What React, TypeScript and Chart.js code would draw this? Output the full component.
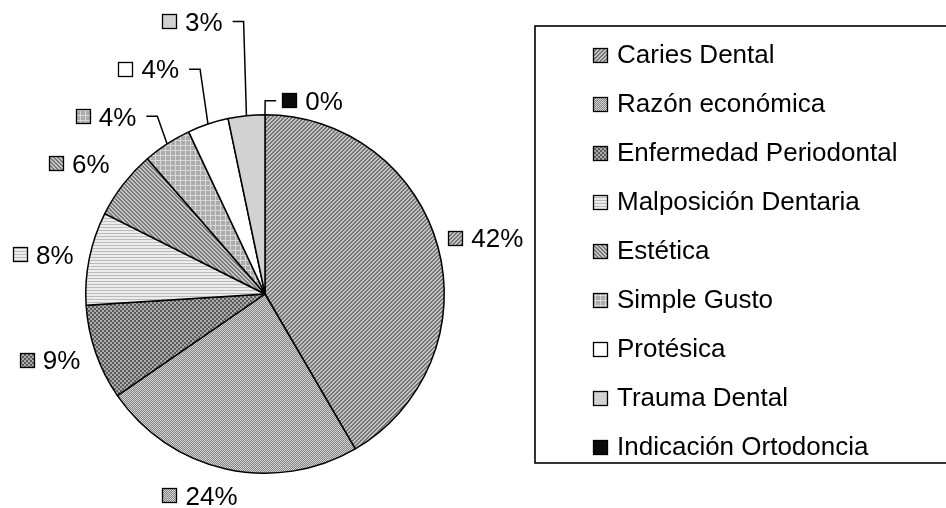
import React, { useEffect, useRef } from 'react';
import { Chart, registerables } from 'chart.js';

Chart.register(...registerables);

// ---- data ----
const categories = [
  'Caries Dental',
  'Razón económica',
  'Enfermedad Periodontal',
  'Malposición Dentaria',
  'Estética',
  'Simple Gusto',
  'Protésica',
  'Trauma Dental',
  'Indicación Ortodoncia',
];
const shares = [41.6, 23.8, 8.6, 8.4, 6.2, 4.4, 3.7, 3.3, 0];

// ---- label layout (style only) ----
const labelDistance = [1.271, 1.18, 1.254, 1.256, 1.265, 1.33, 1.412, 1.573, 1.11];
const labelAngleShift = [0.9, 5.3, 2, -1.5, -2.8, -8.7, -8.8, -9, 13.8];
const labelLeader = [false, false, false, false, false, true, true, true, true];

const FS = 26;
const FONT = `${FS}px "Liberation Sans", Arial, sans-serif`;
const MARK = 15;
const GAP = 8;

function tile(w: number, h: number, fn: (x: number, y: number) => string): CanvasPattern {
  const c = document.createElement('canvas');
  c.width = w;
  c.height = h;
  const g = c.getContext('2d')!;
  for (let y = 0; y < h; y++) {
    for (let x = 0; x < w; x++) {
      g.fillStyle = fn(x, y);
      g.fillRect(x, y, 1, 1);
    }
  }
  return g.createPattern(c, 'repeat')!;
}

function makeFills(): (string | CanvasPattern)[] {
  return [
    tile(4, 4, (x, y) => ((x + y) % 4 < 2 ? '#767676' : '#c4c4c4')),
    tile(2, 2, (x, y) => ((x + y) % 2 ? '#858585' : '#d2d2d2')),
    tile(4, 4, (x, y) => ((Math.floor(x / 2) + Math.floor(y / 2)) % 2 ? '#5a5a5a' : '#acacac')),
    tile(1, 3, (_x, y) => (y === 2 ? '#bbbbbb' : '#ececec')),
    tile(4, 4, (x, y) => ((((x - y) % 4) + 4) % 4 < 2 ? '#7a7a7a' : '#c6c6c6')),
    tile(5, 5, (x, y) => (x === 0 || y === 0 ? '#d8d8d8' : '#ababab')),
    '#ffffff',
    '#d2d2d2',
    '#0a0a0a',
  ];
}

function drawMarker(ctx: CanvasRenderingContext2D, left: number, cy: number, fill: string | CanvasPattern) {
  const top = Math.round(cy - MARK / 2);
  const l = Math.round(left);
  ctx.fillStyle = fill as any;
  ctx.fillRect(l, top, MARK, MARK);
  ctx.lineWidth = 1.3;
  ctx.strokeStyle = '#000';
  ctx.strokeRect(l + 0.5, top + 0.5, MARK - 1, MARK - 1);
}

export default function App() {
  const ref = useRef<HTMLCanvasElement>(null);

  useEffect(() => {
    document.body.style.margin = '0';
    const fills = makeFills();
    const total = shares.reduce((s, v) => s + v, 0);

    const labelsPlugin = {
      id: 'outsideLabels',
      afterDatasetsDraw(chart: any) {
        const ctx: CanvasRenderingContext2D = chart.ctx;
        const meta = chart.getDatasetMeta(0);
        ctx.save();
        ctx.font = FONT;
        ctx.textBaseline = 'alphabetic';
        meta.data.forEach((arc: any, i: number) => {
          const { x, y, startAngle, endAngle, outerRadius } = arc.getProps(
            ['x', 'y', 'startAngle', 'endAngle', 'outerRadius'],
            true
          );
          const mid = (startAngle + endAngle) / 2;
          const a = mid + (labelAngleShift[i] * Math.PI) / 180;
          const d = outerRadius * labelDistance[i];
          const cx = x + Math.cos(a) * d;
          const cy = y + Math.sin(a) * d;
          const text = Math.round((shares[i] / total) * 100 + 1e-9) + '%';
          ctx.font = FONT;
          const tw = ctx.measureText(text).width;
          const bw = MARK + GAP + tw;
          const left = cx - bw / 2;
          drawMarker(ctx, left, cy, fills[i]);
          ctx.fillStyle = '#000';
          ctx.fillText(text, left + MARK + GAP, cy + 0.358 * FS);
          if (labelLeader[i]) {
            const ex = x + Math.cos(mid) * outerRadius;
            const ey = y + Math.sin(mid) * outerRadius;
            let h1: number;
            let h2: number;
            if (cx < x) {
              h1 = left + bw + 10;
              h2 = h1 + 11;
            } else {
              h1 = left - 6;
              h2 = h1 - 11;
            }
            ctx.beginPath();
            ctx.moveTo(h1, cy);
            ctx.lineTo(h2, cy);
            ctx.lineTo(ex, ey);
            ctx.lineWidth = 1.5;
            ctx.strokeStyle = '#000';
            ctx.stroke();
          }
        });
        ctx.restore();
      },
    };

    const legendPlugin = {
      id: 'boxLegend',
      afterDraw(chart: any) {
        const ctx: CanvasRenderingContext2D = chart.ctx;
        ctx.save();
        ctx.lineWidth = 1.6;
        ctx.strokeStyle = '#000';
        ctx.strokeRect(535, 26, 420, 437);
        ctx.font = FONT;
        ctx.textBaseline = 'alphabetic';
        categories.forEach((name, i) => {
          const cy = 54 + 49 * i;
          drawMarker(ctx, 593, cy + 1, fills[i]);
          ctx.fillStyle = '#000';
          ctx.fillText(name, 617, cy + 0.358 * FS);
        });
        ctx.restore();
      },
    };

    const chart = new Chart(ref.current!, {
      type: 'pie',
      data: {
        labels: categories,
        datasets: [
          {
            data: shares,
            backgroundColor: fills as any,
            borderColor: '#000',
            borderWidth: 1.5,
          },
        ],
      },
      options: {
        responsive: false,
        animation: false,
        devicePixelRatio: 1,
        layout: { padding: { left: 85, top: 114, right: 501, bottom: 34 } },
        plugins: {
          legend: { display: false },
          tooltip: { enabled: false },
        },
      },
      plugins: [labelsPlugin, legendPlugin],
    });

    return () => chart.destroy();
  }, []);

  return <canvas ref={ref} width={946} height={508} style={{ display: 'block' }} />;
}
